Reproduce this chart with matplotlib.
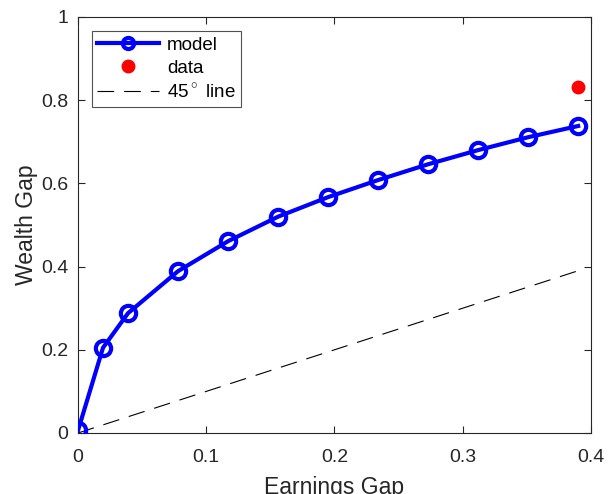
import numpy as np
import matplotlib
matplotlib.use("Agg")
import matplotlib.pyplot as plt

plt.rcParams['font.family'] = ['Liberation Sans', 'DejaVu Sans']
plt.rcParams['mathtext.fontset'] = 'custom'
plt.rcParams['mathtext.rm'] = 'Liberation Sans'

# earnings gap (x) and model wealth gap (y)
earnings_gap = [0.0, 0.0195, 0.039, 0.078, 0.117, 0.156, 0.195,
                0.234, 0.273, 0.312, 0.351, 0.39]
wealth_gap = [0.006, 0.205, 0.288, 0.389, 0.461, 0.520, 0.567,
              0.608, 0.646, 0.680, 0.711, 0.738]

data_x = [0.39]
data_y = [0.831]

line45_x = [0.0, 0.39]

xticks = [0, 0.1, 0.2, 0.3, 0.4]
xticklabels = ["0", "0.1", "0.2", "0.3", "0.4"]
yticks = [0, 0.2, 0.4, 0.6, 0.8, 1.0]
yticklabels = ["0", "0.2", "0.4", "0.6", "0.8", "1"]

fig = plt.figure(figsize=(6.08, 4.94), dpi=100)
ax = fig.add_axes([0.1283, 0.1235, 0.8437, 0.8421])

ax.plot(earnings_gap, wealth_gap, '-o', color='blue', lw=3,
        markersize=11, markeredgewidth=3, markerfacecolor='none',
        label='model', zorder=3)
ax.plot(data_x, data_y, 'o', color='red', markersize=9, label='data', zorder=3)
ax.plot(line45_x, line45_x, '--', color='black', lw=0.8,
        dashes=(15, 9), label='45$^\\circ$ line', zorder=2)

ax.set_xlim(0, 0.4)
ax.set_ylim(0, 1)
ax.set_xticks(xticks)
ax.set_xticklabels(xticklabels)
ax.set_yticks(yticks)
ax.set_yticklabels(yticklabels)

grey = '#262626'
for s in ax.spines.values():
    s.set_color(grey)
    s.set_linewidth(0.8)
ax.tick_params(direction='in', length=5, width=0.8, colors=grey,
               labelsize=14, top=True, right=True)
ax.tick_params(axis='x', pad=11.5)
ax.tick_params(axis='y', pad=7)

ax.set_xlabel('Earnings Gap', fontsize=16.5, color=grey, va='top')
ax.xaxis.set_label_coords(0.5, -0.103)
ax.set_ylabel('Wealth Gap', fontsize=16.5, color=grey, labelpad=2)

leg = ax.legend(loc='upper left', bbox_to_anchor=(0.027, 0.966), fontsize=13.5,
                frameon=True, fancybox=False, edgecolor=grey,
                borderpad=0.3, labelspacing=0.3, handlelength=3.3,
                handletextpad=0.4, borderaxespad=0)
leg.get_frame().set_linewidth(0.8)
leg.legend_handles[0].set_markersize(8)

fig.savefig('out.png', dpi=100)
